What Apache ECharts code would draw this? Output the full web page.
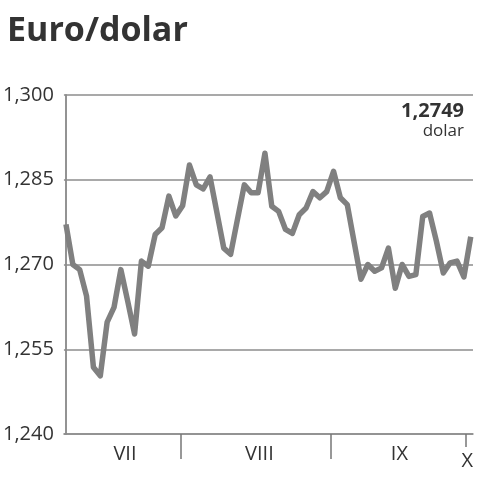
<!DOCTYPE html>
<html>
<head>
<meta charset="utf-8">
<script src="https://cdn.jsdelivr.net/npm/echarts@6/dist/echarts.min.js"></script>
<style>
html,body{margin:0;padding:0;background:#fff;}
#chart{width:482px;height:480px;}
</style>
</head>
<body>
<div id="chart"></div>
<script>
// Data (trading days, July – 1 October)
var rates = [
  1.2771, 1.2700, 1.2691, 1.2644, 1.2518, 1.2503, 1.2598, 1.2624, 1.2691, 1.2635,
  1.2577, 1.2706, 1.2697, 1.2753, 1.2765, 1.2821, 1.2786, 1.2804, 1.2876, 1.2841,
  1.2834, 1.2855, 1.2792, 1.2729, 1.2718, 1.2780, 1.2841, 1.2827, 1.2827, 1.2897,
  1.2803, 1.2794, 1.2762, 1.2755, 1.2788, 1.2800, 1.2829, 1.2818, 1.2829, 1.2865,
  1.2818, 1.2806, 1.2740, 1.2674, 1.2700, 1.2688, 1.2694, 1.2729, 1.2658, 1.2700,
  1.2679, 1.2682, 1.2785, 1.2791, 1.2741, 1.2685, 1.2703, 1.2706, 1.2678, 1.2749
];
var months = ['VII', 'VIII', 'IX', 'X'];
var monthLabelPos = [8.6, 28.2, 48.6, 58.5];   // in trading-day units
var monthTickPos = [16.72, 38.54, 58.3];        // month boundaries
var yTicks = [1.240, 1.255, 1.270, 1.285, 1.300];
var unitLabel = 'dolar';
var titleText = 'Euro/dolar';

var seriesData = rates.map(function (v, i) { return [i, v]; });
var fmt = function (v, d) { return v.toFixed(d).replace('.', ','); };
var lastValue = rates[rates.length - 1];

var xMin = -0.3, xMax = 59.33;
var fontFam = '"Open Sans", "Noto Sans", sans-serif';

var chart = echarts.init(document.getElementById('chart'), null, {renderer: 'canvas'});
chart.setOption({
  animation: false,
  backgroundColor: '#fff',
  title: {
    text: titleText,
    left: 2, top: 9,
    textStyle: {fontFamily: fontFam, fontSize: 34, fontWeight: 'bold', color: '#333'}
  },
  grid: {left: 63, right: 9, top: 95, bottom: 46, containLabel: false},
  xAxis: [{
    type: 'value', min: xMin, max: xMax, position: 'bottom',
    axisLine: {show: true, onZero: false, lineStyle: {color: '#8c8c8c', width: 1.5}},
    axisTick: {show: true, customValues: monthTickPos.slice(0, 2), length: 25, lineStyle: {color: '#777', width: 1.5}},
    axisLabel: {
      show: true, customValues: monthLabelPos.slice(0, 3), margin: 10,
      fontFamily: fontFam, fontSize: 20, color: '#333',
      formatter: function (v) { var k = monthLabelPos.indexOf(v); return k >= 0 ? months[k] : ''; }
    },
    splitLine: {show: false}
  }, {
    type: 'value', min: xMin, max: xMax, position: 'bottom', offset: 0,
    axisLine: {show: false, onZero: false},
    axisTick: {show: true, customValues: [monthTickPos[2]], length: 13, lineStyle: {color: '#777', width: 1.5}},
    axisLabel: {
      show: true, customValues: [monthLabelPos[3]], margin: 17,
      fontFamily: fontFam, fontSize: 20, color: '#333',
      formatter: function () { return months[3]; }
    },
    splitLine: {show: false}
  }],
  yAxis: [{
    type: 'value', min: yTicks[0], max: yTicks[yTicks.length - 1], interval: 0.015,
    axisLine: {show: true, lineStyle: {color: '#8c8c8c', width: 1.5}},
    axisTick: {show: false},
    axisLabel: {
      margin: 10, fontFamily: fontFam, fontSize: 20, color: '#333',
      formatter: function (v) { return fmt(v, 3); }
    },
    splitLine: {show: true, lineStyle: {color: '#8c8c8c', width: 1.5}}
  }, {
    type: 'value', min: yTicks[0], max: yTicks[yTicks.length - 1], interval: 0.015, position: 'right',
    axisLine: {show: true, lineStyle: {color: '#8c8c8c', width: 1.5}},
    axisTick: {show: false}, axisLabel: {show: false}, splitLine: {show: false}
  }],
  graphic: [{
    type: 'text', right: 18, top: 101,
    style: {text: fmt(lastValue, 4), fontFamily: fontFam, fontSize: 20, fontWeight: 'bold', fill: '#333'}
  }, {
    type: 'text', right: 18, top: 123,
    style: {text: unitLabel, fontFamily: fontFam, fontSize: 17, fill: '#333'}
  }],
  series: [{
    type: 'line', data: seriesData, xAxisIndex: 0, yAxisIndex: 0,
    symbol: 'none', lineStyle: {color: '#808080', width: 5.5, join: 'round'},
    silent: true
  }]
});
</script>
</body>
</html>
